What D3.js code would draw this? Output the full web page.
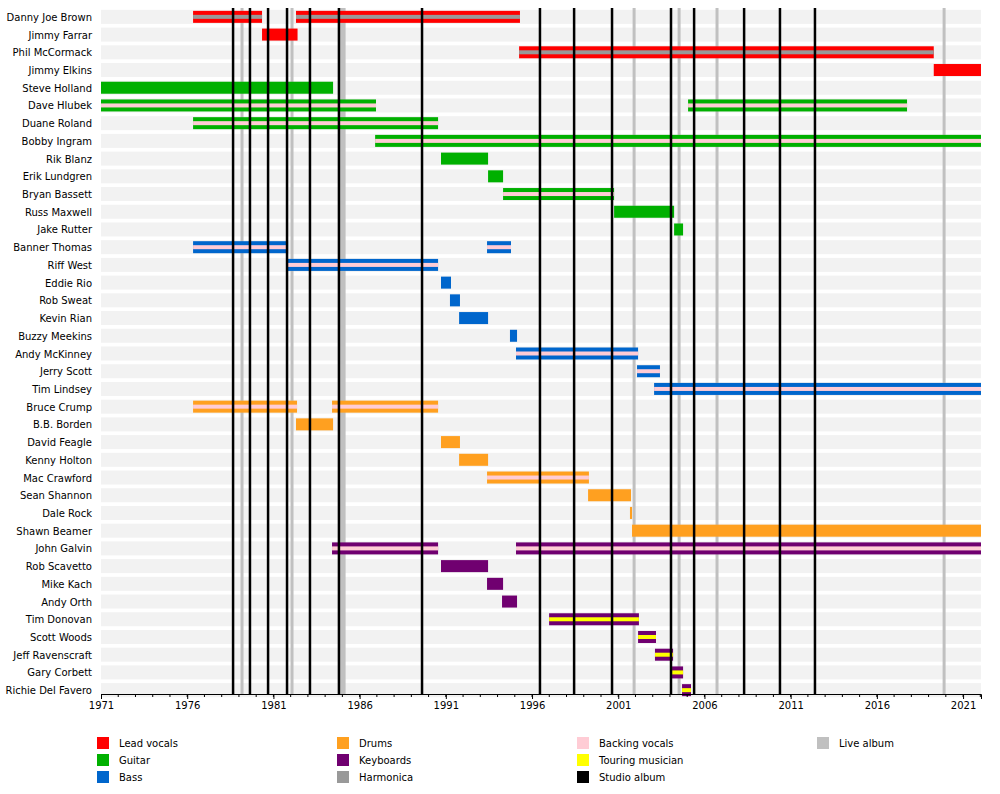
<!DOCTYPE html>
<html><head><meta charset="utf-8">
<script src="https://cdn.jsdelivr.net/npm/d3@7"></script>
<style>body{margin:0;background:#fff}text{font-family:"DejaVu Sans",sans-serif}</style>
</head><body>
<script>
// band members, roles and stints: [start, end, stripe]
var members = ["Danny Joe Brown","Jimmy Farrar","Phil McCormack","Jimmy Elkins","Steve Holland","Dave Hlubek","Duane Roland","Bobby Ingram","Rik Blanz","Erik Lundgren","Bryan Bassett","Russ Maxwell","Jake Rutter","Banner Thomas","Riff West","Eddie Rio","Rob Sweat","Kevin Rian","Buzzy Meekins","Andy McKinney","Jerry Scott","Tim Lindsey","Bruce Crump","B.B. Borden","David Feagle","Kenny Holton","Mac Crawford","Sean Shannon","Dale Rock","Shawn Beamer","John Galvin","Rob Scavetto","Mike Kach","Andy Orth","Tim Donovan","Scott Woods","Jeff Ravenscraft","Gary Corbett","Richie Del Favero"];
var roles = ["vocals","vocals","vocals","vocals","guitar","guitar","guitar","guitar","guitar","guitar","guitar","guitar","guitar","bass","bass","bass","bass","bass","bass","bass","bass","bass","drums","drums","drums","drums","drums","drums","drums","drums","keys","keys","keys","keys","keys","keys","keys","keys","keys"];
var END = 2022.04;
var stints = [
  [[1976.34,1980.34,"harmonica"],[1982.31,1995.3,"harmonica"]],
  [[1980.34,1982.4,null]],
  [[1995.25,2019.3,"harmonica"]],
  [[2019.3,END,null]],
  [[1971,1984.46,null]],
  [[1971,1986.95,"backing"],[2005.05,2017.75,"backing"]],
  [[1976.34,1990.55,"backing"]],
  [[1986.9,END,"backing"]],
  [[1990.72,1993.45,null]],
  [[1993.45,1994.32,null]],
  [[1994.32,2000.76,"backing"]],
  [[2000.76,2004.24,null]],
  [[2004.24,2004.76,null]],
  [[1976.34,1981.85,"backing"],[1993.39,1994.78,"backing"]],
  [[1981.79,1990.55,"backing"]],
  [[1990.72,1991.3,null]],
  [[1991.24,1991.82,null]],
  [[1991.77,1993.45,null]],
  [[1994.72,1995.13,null]],
  [[1995.07,2002.15,"backing"]],
  [[2002.09,2003.42,"backing"]],
  [[2003.08,END,"backing"]],
  [[1976.34,1982.37,"backing"],[1984.4,1990.55,"backing"]],
  [[1982.31,1984.46,null]],
  [[1990.72,1991.82,null]],
  [[1991.77,1993.45,null]],
  [[1993.39,1999.3,"backing"]],
  [[1999.25,2001.74,null]],
  [[2001.68,2001.8,null]],
  [[2001.8,END,null]],
  [[1984.4,1990.55,"backing"],[1995.07,END,"backing"]],
  [[1990.72,1993.45,null]],
  [[1993.39,1994.32,null]],
  [[1994.26,1995.13,null]],
  [[1996.99,2002.2,"touring"]],
  [[2002.15,2003.19,"touring"]],
  [[2003.13,2004.18,"touring"]],
  [[2004.12,2004.76,"touring"]],
  [[2004.7,2005.22,"touring"]]
];
var studioAlbums = [1978.66,1979.64,1980.69,1981.79,1983.12,1984.8,1989.62,1996.46,1998.44,2000.64,2004.06,2005.4,2008.3,2010.38,2012.41];
var liveAlbums = [1979.18,1982.08,1984.95,1985.1,2001.92,2004.53,2006.73,2019.9];
var tickYears = [1971,1976,1981,1986,1991,1996,2001,2006,2011,2016,2021];
var legendItems = [["Lead vocals","#ff0000"],["Guitar","#00b000"],["Bass","#0066cc"],["Drums","#ffa020"],["Keyboards","#700070"],["Harmonica","#999999"],["Backing vocals","#ffccd5"],["Touring musician","#ffff00"],["Studio album","#000000"],["Live album","#c0c0c0"]];

var roleColor = {vocals:"#ff0000",guitar:"#00b000",bass:"#0066cc",drums:"#ffa020",keys:"#700070"};
var stripeColor = {harmonica:"#999999",backing:"#ffccd5",touring:"#ffff00"};

var svg = d3.select("body").append("svg").attr("width",1000).attr("height",794);
var x = d3.scaleLinear().domain([1971,END]).range([101,981]);
var y = d3.scaleBand().domain(members).range([8,699]).paddingInner(0);
var bh = 12;

// row backgrounds
svg.selectAll("rect.bg").data(members).enter().append("rect")
  .attr("x",101).attr("width",880)
  .attr("y",d=>y(d)+y.bandwidth()/2-7).attr("height",14)
  .attr("fill","#f2f2f2");

svg.selectAll("text.name").data(members).enter().append("text")
  .attr("x",92).attr("y",d=>y(d)+y.bandwidth()/2+4)
  .attr("text-anchor","end").style("font-size","10px").text(d=>d);

// album lines
svg.selectAll("line.live").data(liveAlbums).enter().append("line")
  .attr("x1",d=>x(d)).attr("x2",d=>x(d)).attr("y1",8).attr("y2",694)
  .attr("stroke","#c0c0c0").attr("stroke-width",3);

members.forEach(function(m,i){
  stints[i].forEach(function(s){
    var cy = y(m)+y.bandwidth()/2;
    svg.append("rect").attr("x",x(s[0])).attr("width",Math.max(1,x(s[1])-x(s[0])))
      .attr("y",cy-bh/2).attr("height",bh).attr("fill",roleColor[roles[i]]);
    if(s[2]) svg.append("rect").attr("x",x(s[0])).attr("width",Math.max(1,x(s[1])-x(s[0])))
      .attr("y",cy-2).attr("height",4).attr("fill",stripeColor[s[2]]);
  });
});

svg.selectAll("line.studio").data(studioAlbums).enter().append("line")
  .attr("x1",d=>x(d)).attr("x2",d=>x(d)).attr("y1",8).attr("y2",694)
  .attr("stroke","#000").attr("stroke-width",2.5);

var axis = d3.axisBottom(x).tickValues(tickYears).tickFormat(d3.format("d")).tickSize(5);
var g = svg.append("g").attr("transform","translate(0,694)").call(axis);
g.selectAll("text").style("font-size","10px").style("font-family","DejaVu Sans");
g.select(".domain").attr("stroke","#000");
g.selectAll(".minor").data(d3.range(1972,2023)).enter().append("line")
  .attr("x1",d=>x(d)).attr("x2",d=>x(d)).attr("y1",0).attr("y2",3).attr("stroke","#000");

// legend
var lg = svg.selectAll("g.leg").data(legendItems).enter().append("g")
  .attr("transform",function(d,i){
    var col = i<3?0:i<6?1:i<9?2:3, row = i<9?i%3:0;
    return "translate("+(97+col*240)+","+(737+row*17)+")";});
lg.append("rect").attr("width",12).attr("height",12).attr("fill",d=>d[1]);
lg.append("text").attr("x",22).attr("y",10).style("font-size","10px").text(d=>d[0]);
</script>
</body></html>
